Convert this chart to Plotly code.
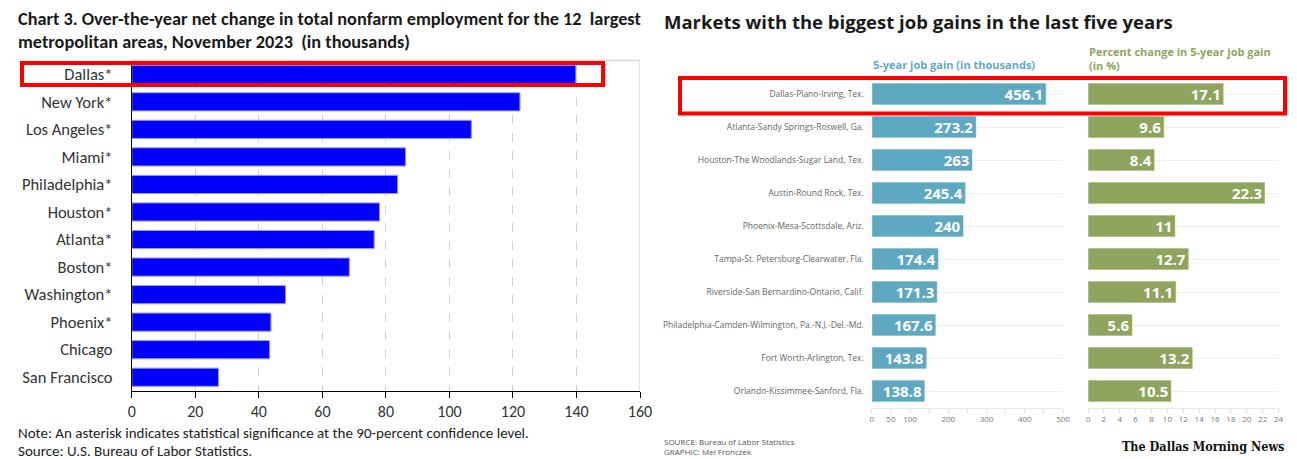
import plotly.graph_objects as go

W, H = 1297, 459

# ---------------- data ----------------
metros = ["Dallas*", "New York*", "Los Angeles*", "Miami*", "Philadelphia*", "Houston*",
          "Atlanta*", "Boston*", "Washington*", "Phoenix*", "Chicago", "San Francisco"]
net_change = [139.8, 122.2, 106.9, 86.2, 83.7, 78.0, 76.3, 68.5, 48.4, 43.8, 43.4, 27.3]
left_ticks = [0, 20, 40, 60, 80, 100, 120, 140, 160]

markets = ["Dallas-Plano-Irving, Tex.",
           "Atlanta-Sandy Springs-Roswell, Ga.",
           "Houston-The Woodlands-Sugar Land, Tex.",
           "Austin-Round Rock, Tex.",
           "Phoenix-Mesa-Scottsdale, Ariz.",
           "Tampa-St. Petersburg-Clearwater, Fla.",
           "Riverside-San Bernardino-Ontario, Calif.",
           "Philadelphia-Camden-Wilmington, Pa.-N.J.-Del.-Md.",
           "Fort Worth-Arlington, Tex.",
           "Orlando-Kissimmee-Sanford, Fla."]
job_gain = [456.1, 273.2, 263, 245.4, 240, 174.4, 171.3, 167.6, 143.8, 138.8]
pct_change = [17.1, 9.6, 8.4, 22.3, 11, 12.7, 11.1, 5.6, 13.2, 10.5]
gain_ticks = [0, 50, 100, 150, 200, 250, 300, 350, 400, 450, 500]
gain_labels = ["0", "50", "100", "", "200", "", "300", "", "400", "", "500"]
pct_ticks = [0, 2, 4, 6, 8, 10, 12, 14, 16, 18, 20, 22, 24]

# ---------------- helpers ----------------
def px(x):
    return x / W

def py(y):
    return 1 - y / H

NARROW = "Liberation Sans Narrow, Arial Narrow, Carlito, Calibri, sans-serif"
SEGOE = "Open Sans, Noto Sans, sans-serif"
BLUE2 = "#5FA8C2"
GREEN2 = "#8FA55E"

fig = go.Figure()

# Left chart
fig.add_trace(go.Bar(
    x=net_change, y=metros, orientation="h", xaxis="x", yaxis="y",
    marker=dict(color="#0000FF", line=dict(color="#9A9AFF", width=1)),
    hoverinfo="x+y", showlegend=False,
))

# Right chart - job gain
fig.add_trace(go.Bar(
    x=job_gain, y=markets, orientation="h", xaxis="x2", yaxis="y2",
    marker=dict(color=BLUE2, line=dict(color="rgba(255,255,255,0.55)", width=1)),
    texttemplate="%{x}", textposition="inside", insidetextanchor="end", textangle=0,
    textfont=dict(color="white", size=15, family=SEGOE, weight="bold"),
    constraintext="none", cliponaxis=False, showlegend=False,
))

# Right chart - percent change
fig.add_trace(go.Bar(
    x=pct_change, y=markets, orientation="h", xaxis="x3", yaxis="y3",
    marker=dict(color=GREEN2, line=dict(color="rgba(255,255,255,0.55)", width=1)),
    texttemplate="%{x}", textposition="inside", insidetextanchor="end", textangle=0,
    textfont=dict(color="white", size=15, family=SEGOE, weight="bold"),
    constraintext="none", cliponaxis=False, showlegend=False,
))

left_ydom = [py(391), py(60.5)]
right_ydom = [py(407.5), py(77.5)]

fig.update_layout(
    width=W, height=H,
    margin=dict(l=0, r=0, t=0, b=0, autoexpand=False),
    paper_bgcolor="white", plot_bgcolor="white",
    bargap=0.34,
    xaxis=dict(domain=[px(131.8), px(640)], range=[0, 160], anchor="y", automargin=False,
               tickvals=left_ticks, showline=True, linecolor="black", linewidth=1,
               ticks="outside", ticklen=6, tickcolor="black",
               showgrid=True, gridcolor="#d0d0d0", griddash="dash", gridwidth=1,
               zeroline=False, tickfont=dict(family=NARROW, size=16, color="#333333"),
               fixedrange=True),
    yaxis=dict(domain=left_ydom, anchor="x", type="category", automargin=False,
               categoryorder="array", categoryarray=metros, range=[11.5, -0.5],
               showline=True, linecolor="black", linewidth=1, showgrid=False,
               ticks="", ticklabelstandoff=15,
               tickfont=dict(family=NARROW, size=16.5, color="#333333"), fixedrange=True),
    xaxis2=dict(domain=[px(871.8), px(1063)], range=[0, 500], anchor="y2", automargin=False,
                tickvals=gain_ticks, ticktext=gain_labels,
                showline=True, linecolor="#e8e8e8", ticks="outside", ticklen=4,
                tickcolor="#e0e0e0", showgrid=False, zeroline=False,
                tickfont=dict(family=SEGOE, size=8, color="#777777"), fixedrange=True),
    yaxis2=dict(domain=right_ydom, anchor="x2", type="category", automargin=False,
                categoryorder="array", categoryarray=markets, range=[9.5, -0.5],
                showline=False, showgrid=True, gridcolor="#efefef", gridwidth=1,
                ticks="", ticklabelstandoff=7,
                tickfont=dict(family=SEGOE, size=8.5, color="#666666"), fixedrange=True),
    xaxis3=dict(domain=[px(1088), px(1278.5)], range=[0, 24], anchor="y3", automargin=False,
                tickvals=pct_ticks,
                showline=True, linecolor="#e8e8e8", ticks="outside", ticklen=4,
                tickcolor="#e0e0e0", showgrid=False, zeroline=False,
                tickfont=dict(family=SEGOE, size=8, color="#777777"), fixedrange=True),
    yaxis3=dict(domain=right_ydom, anchor="x3", type="category", automargin=False,
                categoryorder="array", categoryarray=markets, range=[9.5, -0.5],
                showline=False, showgrid=True, gridcolor="#efefef", gridwidth=1,
                showticklabels=False, ticks="", fixedrange=True),
)

shapes = [
    # left chart top and right borders
    dict(type="line", xref="x domain", yref="y domain", x0=0, x1=1, y0=1, y1=1,
         line=dict(color="#d9d9d9", width=1.5)),
    dict(type="line", xref="x", yref="y domain", x0=160, x1=160, y0=0, y1=1,
         line=dict(color="#d9d9d9", width=1.5)),
    # red highlight boxes
    dict(type="rect", xref="paper", yref="paper", x0=px(22), x1=px(603), y0=py(85), y1=py(63),
         line=dict(color="#FF0000", width=4), fillcolor="rgba(0,0,0,0)"),
    dict(type="rect", xref="paper", yref="paper", x0=px(680), x1=px(1285), y0=py(113.5), y1=py(78),
         line=dict(color="#FF0000", width=4), fillcolor="rgba(0,0,0,0)"),
]
fig.update_layout(shapes=shapes)

def ann(text, x, y, size, color, family, xanchor="left", weight="normal"):
    fig.add_annotation(text=text, x=px(x), y=py(y), xref="paper", yref="paper",
                       xanchor=xanchor, yanchor="middle", align="left", showarrow=False,
                       font=dict(size=size, color=color, family=family, weight=weight))

# left chart texts
ann("Chart 3. Over-the-year net change in total nonfarm employment for the 12  largest",
    16, 19, 18.3, "#1a1a1a", NARROW, weight="bold")
ann("metropolitan areas, November 2023  (in thousands)", 16, 42, 18.3, "#1a1a1a", NARROW, weight="bold")
ann("Note: An asterisk indicates statistical significance at the 90-percent confidence level.",
    16, 433, 15, "#222222", NARROW)
ann("Source: U.S. Bureau of Labor Statistics.", 16, 451, 15, "#222222", NARROW)

# right chart texts
ann("Markets with the biggest job gains in the last five years", 662, 22, 18.5, "#1a1a1a", SEGOE, weight="bold")
ann("5-year job gain (in thousands)", 871, 64.5, 11, BLUE2, SEGOE, weight="bold")
ann("Percent change in 5-year job gain<br>(in %)", 1087, 58.5, 11, GREEN2, SEGOE, weight="bold")
ann("SOURCE: Bureau of Labor Statistics<br>GRAPHIC: Mel Fronczek", 662, 446.5, 8, "#555555", SEGOE)
ann("The Dallas Morning News", 1286, 446, 12.5, "#111111", "DejaVu Serif Condensed, DejaVu Serif, serif",
    xanchor="right", weight="bold")

fig.write_html(
    "out.html",
    config={"displayModeBar": False},
    post_script="document.body.style.margin='0';document.body.style.padding='0';"
                "document.documentElement.style.overflow='hidden';",
)
